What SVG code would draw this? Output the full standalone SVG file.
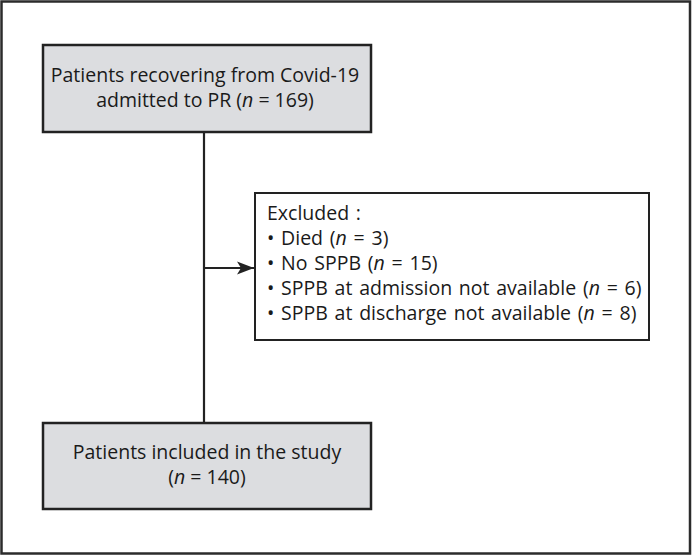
<svg xmlns="http://www.w3.org/2000/svg" width="692" height="556" viewBox="0 0 692 556">
<defs>
<style>
text{font-family:"Open Sans","Noto Sans",sans-serif;font-size:19.5px;fill:#1a1a1a}
.ws{word-spacing:1.7px}
.box{fill:#dcdde0;stroke:#222;stroke-width:2.5}
.ex{fill:#fff;stroke:#222;stroke-width:2}
.ln{stroke:#222;stroke-width:2.2;fill:none}
.c{text-anchor:middle}
</style>
<marker id="ah" markerWidth="18" markerHeight="14" refX="17" refY="7" orient="auto" markerUnits="userSpaceOnUse">
<path d="M0,0.5 L17,7 L0,13.5 L4,7 Z" fill="#222"/>
</marker>
</defs>
<rect x="0" y="0" width="692" height="556" fill="#fff"/>
<rect x="1.5" y="1.5" width="688.5" height="552" fill="none" stroke="#2b2b2b" stroke-width="2.5"/>
<g id="connectors">
<line class="ln" x1="204" y1="132" x2="204" y2="423"/>
<line class="ln" x1="204" y1="268" x2="254" y2="268" marker-end="url(#ah)"/>
</g>
<g id="node-admitted">
<rect class="box" x="43" y="45" width="328" height="87"/>
<text class="c" x="205" y="82">Patients recovering from Covid-19</text>
<text class="c" x="205" y="107">admitted to PR (<tspan font-style="italic">n</tspan> = 169)</text>
</g>
<g id="node-excluded">
<rect class="ex" x="255" y="193" width="394" height="147"/>
<text class="ws" x="267" y="220">Excluded :</text>
<text class="ws" x="267" y="245">• Died (<tspan font-style="italic">n</tspan> = 3)</text>
<text class="ws" x="267" y="270">• No SPPB (<tspan font-style="italic">n</tspan> = 15)</text>
<text class="ws" x="267" y="295">• SPPB at admission not available (<tspan font-style="italic">n</tspan> = 6)</text>
<text class="ws" x="267" y="320">• SPPB at discharge not available (<tspan font-style="italic">n</tspan> = 8)</text>
</g>
<g id="node-included">
<rect class="box" x="43" y="423" width="328" height="86"/>
<text class="c" x="207" y="459">Patients included in the study</text>
<text class="c" x="207" y="484">(<tspan font-style="italic">n</tspan> = 140)</text>
</g>
</svg>
